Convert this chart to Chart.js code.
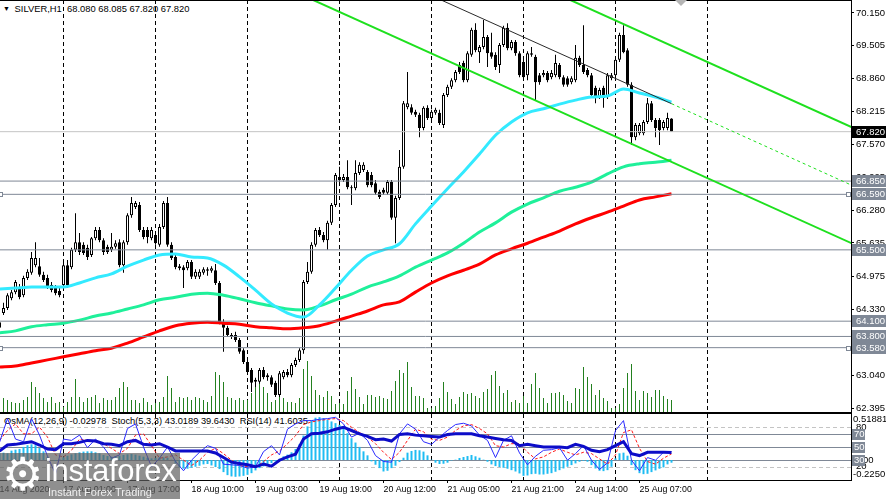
<!DOCTYPE html>
<html lang="en">
<head>
<meta charset="UTF-8">
<title>SILVER,H1</title>
<script src="https://cdn.jsdelivr.net/npm/chart.js"></script>
<style>
  html, body { margin: 0; padding: 0; background: #fff; }
  body { position: relative; width: 886px; height: 499px; overflow: hidden;
         font-family: "Liberation Sans", sans-serif; color: #000; }
  canvas { position: absolute; left: 0; }
  #main { top: 0; }
  #osc { top: 412px; }
  .title { position: absolute; left: 3px; top: 2px; font-size: 9.4px; line-height: 13px; white-space: pre; }
  .title .arrow { font-size: 7px; vertical-align: 1px; margin-right: 2px; }
  .legend { position: absolute; left: 4px; top: 415px; font-size: 9.3px; line-height: 13px; white-space: pre; }
  .shift { position: absolute; left: 675px; top: 0; width: 0; height: 0;
           border-left: 6px solid transparent; border-right: 6px solid transparent; border-top: 6px solid #b4b4b4; }
  .brand { position: absolute; left: 0; top: 453px; width: 180px; height: 46px; background: rgba(95,95,95,0.7); color: #fff; overflow: hidden; }
  .brand .gear { position: absolute; left: 2px; top: -5px; font-family: "DejaVu Sans"; font-size: 46px; line-height: 52px; }
  .brand .name { position: absolute; left: 45px; top: 1px; font-size: 31px; line-height: 34px; letter-spacing: -0.3px; }
  .brand .tag { position: absolute; left: 48px; top: 33px; font-size: 11px; line-height: 12px; color: #eee; }
</style>
</head>
<body>
<div class="title"><span class="arrow">▼</span> SILVER,H1  68.080 68.085 67.820 67.820</div>
<div class="legend">OsMA(12,26,9) -0.02978  Stoch(5,3,3) 43.0189 39.6430  RSI(14) 41.6035</div>
<canvas id="main" width="886" height="413"></canvas>
<canvas id="osc" width="886" height="87"></canvas>
<div class="shift"></div>
<div class="brand"><span class="gear">⚙</span><span class="name">instaforex</span><span class="tag">Instant Forex Trading</span></div>
<script>
// hourly bars (first bar is cut by the left edge)
const opens = [
  64.08, 64.26, 64.36, 64.55, 64.67, 64.77, 64.61, 64.95, 65.05, 65.20,
  65.18, 65.01, 64.95, 64.81, 64.75, 64.69, 64.81, 65.20, 65.16, 65.50,
  65.65, 65.60, 65.54, 65.40, 65.73, 65.89, 65.69, 65.56, 65.50, 65.56,
  65.65, 65.20, 65.65, 66.18, 66.34, 66.38, 65.89, 65.89, 65.73, 65.79,
  65.60, 65.95, 66.42, 65.60, 65.36, 65.18, 65.16, 65.14, 65.26, 64.97,
  64.97, 65.05, 65.09, 65.09, 65.10, 64.85, 64.08, 63.97, 63.79, 63.83,
  63.73, 63.53, 63.30, 63.14, 62.91, 62.91, 63.14, 63.04, 63.00, 62.89,
  62.65, 63.00, 63.10, 63.04, 63.24, 63.34, 63.53, 64.87, 65.07, 65.60,
  65.89, 65.79, 65.69, 66.03, 66.38, 66.93, 66.87, 66.93, 66.73, 66.71,
  67.01, 67.07, 67.03, 66.97, 66.81, 66.64, 66.68, 66.62, 66.83, 66.13,
  66.52, 67.13, 68.30, 68.30, 68.21, 68.15, 67.89, 68.29, 68.09, 68.19,
  68.19, 67.95, 68.54, 68.70, 68.83, 69.13, 69.17, 68.83, 69.33, 69.82,
  69.38, 69.48, 69.68, 69.38, 69.33, 69.13, 69.52, 69.86, 69.46, 69.58,
  69.36, 69.19, 68.93, 69.36, 69.29, 68.93, 68.93, 68.97, 68.89, 68.93,
  69.13, 68.89, 68.87, 68.79, 68.83, 69.27, 69.13, 69.03, 68.93, 68.68,
  68.50, 68.68, 68.50, 68.87, 68.93, 69.23, 69.72, 69.42, 68.74, 67.71,
  67.79, 67.79, 68.01, 68.38, 68.05, 68.05, 67.89, 67.89, 68.080
];
const highs = [
  64.16, 64.46, 64.65, 64.71, 64.91, 64.83, 64.99, 65.12, 65.46, 65.65,
  65.34, 65.07, 65.01, 64.87, 64.81, 64.75, 65.26, 65.30, 65.54, 66.22,
  65.83, 65.65, 65.60, 65.75, 65.95, 65.95, 65.73, 65.60, 65.83, 65.69,
  65.71, 65.69, 66.22, 66.54, 66.46, 66.44, 65.95, 65.95, 65.95, 65.85,
  66.01, 66.46, 66.54, 65.65, 65.40, 65.22, 65.20, 65.30, 65.30, 65.12,
  65.12, 65.16, 65.16, 65.18, 65.22, 64.89, 64.14, 64.01, 63.87, 63.89,
  63.77, 63.57, 63.34, 63.18, 62.99, 63.18, 63.20, 63.08, 63.04, 62.93,
  63.12, 63.14, 63.16, 63.28, 63.38, 63.57, 64.91, 65.26, 65.65, 65.93,
  65.95, 65.85, 66.07, 66.42, 67.01, 67.13, 66.99, 67.26, 66.77, 67.26,
  67.22, 67.22, 67.07, 67.03, 66.87, 66.68, 66.72, 66.87, 66.87, 66.56,
  67.46, 68.42, 68.99, 68.36, 68.25, 68.19, 68.32, 68.34, 68.25, 68.29,
  68.25, 68.58, 68.74, 68.87, 69.03, 69.19, 69.21, 69.40, 69.86, 69.95,
  69.52, 70.01, 69.72, 69.76, 69.38, 69.56, 69.90, 69.95, 69.62, 69.62,
  69.40, 69.25, 69.40, 69.48, 69.33, 68.97, 69.03, 69.01, 69.03, 69.33,
  69.17, 68.93, 68.91, 68.91, 69.52, 69.31, 69.91, 69.07, 68.97, 68.72,
  68.68, 68.72, 68.97, 68.97, 69.27, 69.76, 69.91, 69.46, 68.79, 67.99,
  67.99, 68.05, 68.48, 68.42, 68.09, 68.09, 68.05, 68.19, 68.085
];
const lows = [
  63.91, 64.22, 64.32, 64.51, 64.63, 64.53, 64.57, 64.91, 65.01, 65.16,
  64.97, 64.87, 64.73, 64.67, 64.61, 64.57, 64.75, 64.75, 65.12, 65.46,
  65.40, 65.40, 65.30, 65.36, 65.69, 65.65, 65.40, 65.42, 65.46, 65.52,
  65.16, 65.05, 65.60, 66.13, 66.30, 65.85, 65.71, 65.63, 65.69, 65.60,
  65.56, 65.91, 65.56, 65.30, 65.12, 65.10, 64.75, 65.10, 64.93, 64.93,
  64.93, 65.01, 64.99, 65.05, 64.81, 64.04, 63.50, 63.79, 63.75, 63.69,
  63.46, 63.26, 63.06, 62.71, 62.81, 62.87, 62.96, 62.93, 62.81, 62.61,
  62.61, 62.96, 63.00, 63.00, 63.20, 63.30, 63.46, 64.83, 65.03, 65.56,
  65.75, 65.65, 65.50, 65.99, 66.34, 66.83, 66.83, 66.69, 66.38, 66.67,
  66.97, 67.03, 66.73, 66.73, 66.58, 66.50, 66.58, 66.58, 66.09, 65.63,
  66.48, 67.09, 68.26, 68.15, 68.11, 67.71, 67.85, 68.05, 68.05, 68.15,
  67.95, 67.89, 68.50, 68.66, 68.79, 68.95, 68.79, 68.79, 69.29, 69.38,
  69.17, 69.44, 69.09, 69.25, 69.03, 68.97, 69.48, 69.42, 69.42, 69.31,
  68.89, 68.83, 68.83, 69.29, 68.44, 68.74, 68.89, 68.79, 68.85, 68.89,
  68.85, 68.70, 68.70, 68.75, 68.79, 69.09, 68.95, 68.89, 68.50, 68.38,
  68.46, 68.29, 68.46, 68.83, 68.89, 69.19, 69.36, 68.70, 67.56, 67.65,
  67.75, 67.75, 67.97, 68.01, 67.71, 67.56, 67.85, 67.85, 67.820
];
const closes = [
  63.97, 64.36, 64.61, 64.67, 64.87, 64.57, 64.95, 65.07, 65.34, 65.34,
  65.01, 64.91, 64.77, 64.71, 64.65, 64.61, 65.20, 64.81, 65.50, 65.65,
  65.46, 65.44, 65.36, 65.73, 65.89, 65.69, 65.46, 65.46, 65.56, 65.63,
  65.20, 65.65, 66.18, 66.42, 66.42, 65.89, 65.75, 65.75, 65.89, 65.63,
  65.95, 66.42, 65.60, 65.34, 65.16, 65.14, 65.10, 65.26, 64.97, 65.07,
  65.07, 65.12, 65.12, 65.14, 64.85, 64.08, 63.97, 63.83, 63.83, 63.73,
  63.50, 63.30, 63.10, 62.89, 62.95, 63.14, 63.00, 63.00, 62.85, 62.65,
  63.08, 63.10, 63.04, 63.24, 63.34, 63.53, 64.87, 65.07, 65.60, 65.89,
  65.79, 65.69, 66.03, 66.38, 66.97, 66.87, 66.93, 66.73, 66.71, 67.01,
  67.17, 67.17, 66.77, 66.77, 66.62, 66.54, 66.62, 66.83, 66.13, 66.52,
  67.13, 68.38, 68.38, 68.19, 68.15, 67.89, 68.29, 68.09, 68.21, 68.25,
  67.99, 68.54, 68.70, 68.83, 68.99, 68.99, 68.83, 69.36, 69.82, 69.42,
  69.48, 69.68, 69.36, 69.29, 69.09, 69.52, 69.86, 69.46, 69.58, 69.36,
  68.93, 68.89, 69.36, 69.33, 68.79, 68.79, 68.97, 68.83, 68.97, 69.17,
  68.89, 68.74, 68.74, 68.87, 69.27, 69.13, 68.99, 68.93, 68.54, 68.50,
  68.64, 68.48, 68.93, 68.93, 69.23, 69.72, 69.38, 68.74, 67.71, 67.95,
  67.95, 68.01, 68.38, 68.05, 67.89, 67.85, 68.01, 68.09, 67.820
];
const volumes = [
  1000, 1400, 1200, 1000, 900, 900, 1200, 1500, 3000, 2500,
  1900, 1400, 1000, 1500, 900, 1000, 500, 1000, 1500, 3300,
  1500, 1000, 1400, 1500, 1700, 900, 1400, 1200, 1200, 1500,
  2400, 3000, 2500, 1200, 1200, 900, 1400, 1000, 700, 900,
  1000, 1500, 3600, 2400, 1000, 1500, 1400, 1500, 1200, 1500,
  1400, 1200, 1000, 1600, 4000, 3700, 3000, 1500, 1400, 1200,
  1400, 1200, 1200, 1900, 3000, 4000, 2500, 1900, 1000, 1200,
  1500, 1400, 1000, 1000, 900, 1400, 4300, 5100, 3600, 2200,
  1700, 1500, 2100, 1600, 800, 900, 800, 2100, 3500, 2300,
  1500, 800, 1700, 1700, 1500, 1600, 1400, 1300, 2100, 3100,
  4200, 3900, 5000, 2500, 1600, 1600, 1400, 400, 400, 600,
  1400, 3000, 2000, 1300, 800, 1500, 2000, 1800, 1900, 1600,
  1400, 2000, 2300, 3700, 4100, 2600, 1900, 2200, 1000, 1200,
  900, 1600, 900, 2800, 3900, 2400, 1400, 900, 1900, 1900,
  2000, 1700, 1100, 900, 2400, 2300, 4500, 3500, 2800, 1700,
  2200, 1400, 1100, 400, 400, 800, 2400, 3900, 4800, 2100,
  1200, 2100, 1900, 1500, 2200, 2200, 1600, 1300, 1200
];

// moving averages, read every 4th bar
const maStep = 4;
const maFast = [
  64.73, 64.75, 64.77, 64.77, 64.77, 64.85, 64.95, 65.03, 65.18, 65.30,
  65.40, 65.42, 65.36, 65.34, 65.20, 64.97, 64.71, 64.44, 64.26, 64.18,
  64.42, 64.75, 65.10, 65.38, 65.50, 65.62, 66.01, 66.36, 66.70, 67.03,
  67.38, 67.75, 68.01, 68.19, 68.27, 68.36, 68.44, 68.50, 68.52, 68.66,
  68.58, 68.50, 68.40
];
const maMid = [
  63.87, 63.91, 63.99, 64.03, 64.06, 64.12, 64.20, 64.26, 64.34, 64.42,
  64.52, 64.57, 64.63, 64.65, 64.61, 64.54, 64.46, 64.40, 64.34, 64.32,
  64.40, 64.52, 64.63, 64.77, 64.87, 64.99, 65.16, 65.30, 65.44, 65.63,
  65.85, 66.03, 66.24, 66.40, 66.52, 66.65, 66.73, 66.83, 66.99, 67.13,
  67.19, 67.22, 67.26
];
const maSlow = [
  63.20, 63.22, 63.28, 63.34, 63.40, 63.46, 63.52, 63.57, 63.67, 63.79,
  63.91, 64.01, 64.06, 64.08, 64.06, 64.04, 63.99, 63.97, 63.95, 63.97,
  64.01, 64.10, 64.20, 64.30, 64.42, 64.48, 64.67, 64.85, 64.99, 65.10,
  65.22, 65.40, 65.52, 65.63, 65.75, 65.87, 66.01, 66.13, 66.24, 66.36,
  66.48, 66.54, 66.60
];

// OsMA histogram, one value per bar
const osma = [
  0.076, 0.083, 0.076, 0.106, 0.117, 0.125, 0.148, 0.167, 0.178, 0.167,
  0.136, 0.098, 0.038, 0.000, -0.008, 0.008, 0.030, 0.049, 0.064, 0.076,
  0.087, 0.095, 0.098, 0.098, 0.087, 0.076, 0.057, 0.045, 0.038, 0.042,
  0.049, 0.057, 0.064, 0.068, 0.061, 0.049, 0.038, 0.026, 0.019, 0.023,
  0.030, 0.030, 0.026, 0.004, -0.038, -0.083, -0.098, -0.098, -0.087, -0.076,
  -0.064, -0.049, -0.045, -0.061, -0.079, -0.102, -0.136, -0.170, -0.185, -0.189,
  -0.185, -0.178, -0.167, -0.148, -0.117, -0.091, -0.072, -0.053, -0.034, -0.015,
  0.015, 0.042, 0.061, 0.087, 0.125, 0.178, 0.276, 0.379, 0.447, 0.477,
  0.484, 0.473, 0.454, 0.435, 0.416, 0.397, 0.363, 0.303, 0.246, 0.197,
  0.148, 0.098, 0.053, -0.015, -0.053, -0.091, -0.129, -0.121, -0.091, -0.064,
  -0.023, 0.026, 0.083, 0.102, 0.114, 0.110, 0.095, 0.053, 0.004, -0.030,
  -0.045, -0.042, -0.030, -0.004, 0.004, 0.023, 0.034, 0.045, 0.057, 0.042,
  0.026, 0.004, -0.019, -0.049, -0.068, -0.079, -0.087, -0.098, -0.114, -0.129,
  -0.151, -0.178, -0.174, -0.159, -0.155, -0.163, -0.163, -0.155, -0.148, -0.132,
  -0.114, -0.095, -0.076, -0.057, -0.038, -0.019, -0.008, -0.019, -0.057, -0.095,
  -0.121, -0.125, -0.114, -0.076, 0.019, 0.076, 0.083, 0.049, -0.057, -0.114,
  -0.148, -0.159, -0.155, -0.136, -0.117, -0.098, -0.083, -0.049, -0.030
];

// oscillators, read every 2nd bar
const oscStep = 2;
const stochMain = [
  57, 93, 62, 58, 93, 68, 36, 9, 62, 60,
  68, 49, 62, 50, 33, 38, 78, 85, 50, 20,
  33, 50, 28, 14, 30, 42, 52, 48, 24, 23,
  22, 18, 20, 43, 52, 38, 77, 85, 90, 90,
  92, 93, 95, 85, 65, 71, 60, 37, 28, 27,
  70, 85, 77, 58, 54, 65, 75, 84, 86, 82,
  68, 60, 34, 60, 67, 41, 23, 36, 45, 46,
  49, 30, 40, 52, 30, 16, 26, 75, 90, 30,
  14, 34, 30, 42, 43.0
];
const stochSignal = [
  60, 75, 85, 70, 70, 80, 65, 38, 35, 45,
  62, 60, 58, 55, 48, 40, 48, 68, 70, 52,
  33, 35, 38, 30, 22, 30, 42, 48, 40, 30,
  22, 20, 19, 28, 38, 44, 55, 67, 84, 88,
  90, 92, 93, 90, 80, 72, 65, 55, 42, 31,
  42, 60, 77, 73, 62, 60, 65, 75, 82, 84,
  78, 70, 52, 50, 55, 55, 42, 32, 35, 42,
  47, 42, 38, 42, 40, 32, 24, 38, 72, 76,
  48, 28, 24, 33, 39.6
];
const rsi = [
  44, 53, 54, 56, 58, 53, 47, 46, 55, 55,
  57, 60, 59, 55, 54, 52, 58, 60, 54, 53,
  55, 50, 44, 44, 44, 44, 44, 41, 34, 27,
  25, 23, 20, 24, 21, 30, 35, 39, 62, 70,
  71, 73, 77, 80, 75, 70, 66, 61, 62, 59,
  69, 70, 68, 67, 66, 65, 69, 70, 70, 70,
  67, 65, 63, 61, 60, 52, 54, 52, 50, 50,
  50, 49, 54, 51, 45, 43, 46, 52, 58, 40,
  37, 42, 42, 42, 41.6
];

const priceTicks = [70.150, 69.505, 68.860, 68.215, 67.570, 66.925, 66.280, 65.635, 64.975, 64.330, 63.685, 63.040, 62.395];
const levelPrices = [66.850, 66.590, 65.500, 64.100, 63.800, 63.580];
const handlePrices = [66.590, 63.580];
const lastPrice = 67.820;
const channelUpper = [[140, 70.50], [213, 67.91]];
const channelLower = [[76, 70.49], [213, 65.63]];
const channelMid = [[108, 70.49], [168, 68.37]];
const channelMidAhead = [[168, 68.37], [213, 66.77]];
const oscSolid = [70, 50, 30];
const oscDashed = [80, 20];
const macdMin = -0.2250, macdMax = 0.51881;
const xLabelIdx = [0, 16, 32, 48, 64, 80, 96, 112, 128, 144, 160];
const xLabels = ['14 Aug 2020', '17 Aug 01:00', '17 Aug 17:00', '18 Aug 10:00', '19 Aug 03:00', '19 Aug 19:00',
                 '20 Aug 12:00', '21 Aug 05:00', '21 Aug 21:00', '24 Aug 14:00', '25 Aug 07:00'];
const gridIdx = [16, 39, 62, 85, 108, 131, 154, 177];

const FONT = '"Liberation Sans", sans-serif';
const AXIS_SIZE = 9.5;
Chart.defaults.font.family = FONT;
Chart.defaults.font.size = AXIS_SIZE;
Chart.defaults.color = '#000';

const xMin = 0.125, xMax = 212.875;
const priceMin = 62.317, priceMax = 70.405;
const LEVEL = '#7f8896';
const CHANNEL = '#1ee01e';

const pts = (arr, step) => arr.map((v, n) => ({x: n * step, y: v}));
const seg = s => s.map(([x, y]) => ({x, y}));
const flat = p => [{x: xMin, y: p}, {x: xMax, y: p}];
const noPad = ax => { ax.paddingLeft = 0; ax.paddingRight = 0; ax.paddingTop = 0; ax.paddingBottom = 0; };

const lineSet = (data, color, width, order, extra) => Object.assign({
  type: 'line', data, borderColor: color, borderWidth: width, pointRadius: 0, order, clip: 0
}, extra || {});

// price panel decorations: top frame, price tags, handles
const mainDecor = {
  id: 'mainDecor',
  afterDraw(chart) {
    const {ctx, chartArea: a} = chart;
    const y = chart.scales.y;
    ctx.save();
    ctx.fillStyle = '#000';
    ctx.fillRect(a.left, 0, a.right - a.left + 1, 1);
    ctx.font = AXIS_SIZE + 'px ' + FONT;
    ctx.textBaseline = 'middle';
    levelPrices.forEach(p => {
      const py = Math.round(y.getPixelForValue(p));
      ctx.fillStyle = LEVEL;
      ctx.fillRect(a.right + 1, py - 6, 35, 12);
      ctx.fillStyle = '#fff';
      ctx.fillText(p.toFixed(3), a.right + 5, py + 0.5);
    });
    const lp = Math.round(y.getPixelForValue(lastPrice));
    ctx.fillStyle = '#000';
    ctx.fillRect(a.right + 1, lp - 6, 35, 12);
    ctx.fillStyle = '#fff';
    ctx.fillText(lastPrice.toFixed(3), a.right + 5, lp + 0.5);
    handlePrices.forEach(p => {
      const py = Math.round(y.getPixelForValue(p));
      [a.left - 2, a.right - 5].forEach(px => {
        ctx.fillStyle = '#fff';
        ctx.fillRect(px, py - 2, 5, 5);
        ctx.strokeStyle = LEVEL;
        ctx.lineWidth = 1;
        ctx.strokeRect(px + 0.5, py - 1.5, 4, 4);
      });
    });
    ctx.restore();
  }
};

new Chart(document.getElementById('main'), {
  type: 'bar',
  data: {
    datasets: [
      {type: 'bar', yAxisID: 'vol', data: volumes.map((v, i) => ({x: i, y: v})),
       backgroundColor: '#23801f', barThickness: 1, grouped: false, inflateAmount: 0, order: 30},
      {type: 'bar', data: lows.map((l, i) => ({x: i, y: [l, highs[i]]})),
       backgroundColor: '#000', barThickness: 1, grouped: false, inflateAmount: 0, minBarLength: 1, order: 25},
      {type: 'bar', data: opens.map((o, i) => ({x: i, y: [Math.min(o, closes[i]), Math.max(o, closes[i])]})),
       backgroundColor: ctx => closes[ctx.dataIndex] >= opens[ctx.dataIndex] ? '#fff' : '#000',
       borderColor: '#000', borderWidth: 1, borderSkipped: false,
       barThickness: 3, grouped: false, inflateAmount: 0, minBarLength: 1, order: 24},
      lineSet(pts(maSlow, maStep), '#ff0000', 3, 22, {cubicInterpolationMode: 'monotone'}),
      lineSet(pts(maMid, maStep), '#1ff09a', 3, 21, {cubicInterpolationMode: 'monotone'}),
      lineSet(pts(maFast, maStep), '#33eaff', 3, 20, {cubicInterpolationMode: 'monotone'}),
      ...levelPrices.map(p => lineSet(flat(p), LEVEL, 1, 12)),
      lineSet(flat(lastPrice), '#c4c4c4', 1, 11),
      lineSet(seg(channelUpper), CHANNEL, 2, 5),
      lineSet(seg(channelLower), CHANNEL, 2, 5),
      lineSet(seg(channelMid), '#2a2a2a', 1, 4),
      lineSet(seg(channelMidAhead), CHANNEL, 1, 4, {borderDash: [3, 3]})
    ]
  },
  options: {
    responsive: false,
    animation: false,
    events: [],
    devicePixelRatio: 1,
    layout: {padding: {top: 0, right: 0, bottom: 1, left: 0}},
    plugins: {legend: {display: false}, tooltip: {enabled: false}},
    scales: {
      x: {
        type: 'linear', min: xMin, max: xMax, offset: false,
        afterBuildTicks: ax => { ax.ticks = gridIdx.map(v => ({value: v})); },
        afterFit: ax => { ax.height = 0; noPad(ax); },
        ticks: {display: false},
        grid: {color: '#000', drawTicks: false, offset: false},
        border: {color: '#000', dash: [4, 3]}
      },
      y: {
        position: 'right', min: priceMin, max: priceMax,
        afterBuildTicks: ax => { ax.ticks = priceTicks.map(v => ({value: v})); },
        afterFit: ax => { ax.width = 35; noPad(ax); },
        ticks: {autoSkip: false, padding: 2, color: '#000', callback: v => v.toFixed(3)},
        grid: {drawOnChartArea: false, tickLength: 3, color: '#000'},
        border: {color: '#000'}
      },
      vol: {axis: 'y', display: false, min: 0, max: 41200}
    }
  },
  plugins: [mainDecor]
});

// oscillator panel decorations: levels, frame, right-hand labels
const oscDecor = {
  id: 'oscDecor',
  beforeDatasetsDraw(chart) {
    const {ctx, chartArea: a} = chart;
    const s = chart.scales.osc;
    ctx.save();
    ctx.lineWidth = 1;
    ctx.strokeStyle = '#c4c4c4';
    ctx.setLineDash([4, 3]);
    oscDashed.forEach(v => {
      const py = Math.round(s.getPixelForValue(v)) + 0.5;
      ctx.beginPath(); ctx.moveTo(a.left, py); ctx.lineTo(a.right, py); ctx.stroke();
    });
    ctx.strokeStyle = LEVEL;
    ctx.setLineDash([]);
    oscSolid.forEach(v => {
      const py = Math.round(s.getPixelForValue(v)) + 0.5;
      ctx.beginPath(); ctx.moveTo(a.left, py); ctx.lineTo(a.right + 1, py); ctx.stroke();
    });
    ctx.restore();
  },
  afterDraw(chart) {
    const {ctx, chartArea: a} = chart;
    const s = chart.scales.osc, m = chart.scales.macd;
    ctx.save();
    ctx.fillStyle = '#000';
    ctx.fillRect(a.left, 1, a.right - a.left + 1, 1);
    ctx.fillRect(a.right, 1, 1, a.bottom - 1);
    ctx.font = AXIS_SIZE + 'px ' + FONT;
    ctx.textBaseline = 'middle';
    ctx.fillText('80', a.right + 5, s.getPixelForValue(80));
    ctx.fillText(macdMax.toFixed(5), a.right + 2, a.top + 5);
    ctx.fillText('20', a.right + 5, s.getPixelForValue(20));
    ctx.fillText(macdMin.toFixed(4), a.right + 2, a.bottom - 6);
    ctx.fillText('0.00', a.right + 4, m.getPixelForValue(0));
    oscSolid.forEach(v => {
      const py = Math.round(s.getPixelForValue(v));
      ctx.fillStyle = LEVEL;
      ctx.fillRect(a.right + 1, py - 5, 13, 11);
      ctx.fillStyle = '#fff';
      ctx.fillText(String(v), a.right + 3, py + 0.5);
    });
    ctx.restore();
  }
};

new Chart(document.getElementById('osc'), {
  type: 'bar',
  data: {
    datasets: [
      {type: 'bar', yAxisID: 'macd', data: osma.map((v, i) => ({x: i, y: v})),
       backgroundColor: '#1ebcf2', barThickness: 2, grouped: false, inflateAmount: 0, order: 10},
      lineSet(pts(stochSignal, oscStep), '#ff1a1a', 1, 4, {yAxisID: 'osc', borderDash: [3, 2]}),
      lineSet(pts(stochMain, oscStep), '#2a2aff', 1, 3, {yAxisID: 'osc'}),
      lineSet(pts(rsi, oscStep), '#0c0cc8', 3, 2, {yAxisID: 'osc'})
    ]
  },
  options: {
    responsive: false,
    animation: false,
    events: [],
    devicePixelRatio: 1,
    layout: {padding: {top: 2, right: 35, bottom: 0, left: 0}},
    plugins: {legend: {display: false}, tooltip: {enabled: false}},
    scales: {
      x: {
        type: 'linear', min: xMin, max: xMax, offset: false, position: 'bottom',
        afterBuildTicks: ax => { ax.ticks = xLabelIdx.map(v => ({value: v})); },
        afterFit: ax => { ax.height = 19; noPad(ax); },
        ticks: {autoSkip: false, maxRotation: 0, align: 'start', padding: 1, color: '#000',
                font: {size: 8.8}, callback: v => xLabels[xLabelIdx.indexOf(v)]},
        grid: {drawOnChartArea: false, tickLength: 3, color: '#000', offset: false},
        border: {color: '#000'}
      },
      xg: {
        axis: 'x', type: 'linear', min: xMin, max: xMax, offset: false, position: 'bottom',
        afterBuildTicks: ax => { ax.ticks = gridIdx.map(v => ({value: v})); },
        afterFit: ax => { ax.height = 0; noPad(ax); },
        ticks: {display: false},
        grid: {color: '#000', drawTicks: false, offset: false},
        border: {display: false, dash: [4, 3]}
      },
      osc: {axis: 'y', display: false, min: 0, max: 100},
      macd: {axis: 'y', display: false, min: macdMin, max: macdMax}
    }
  },
  plugins: [oscDecor]
});
</script>
</body>
</html>
